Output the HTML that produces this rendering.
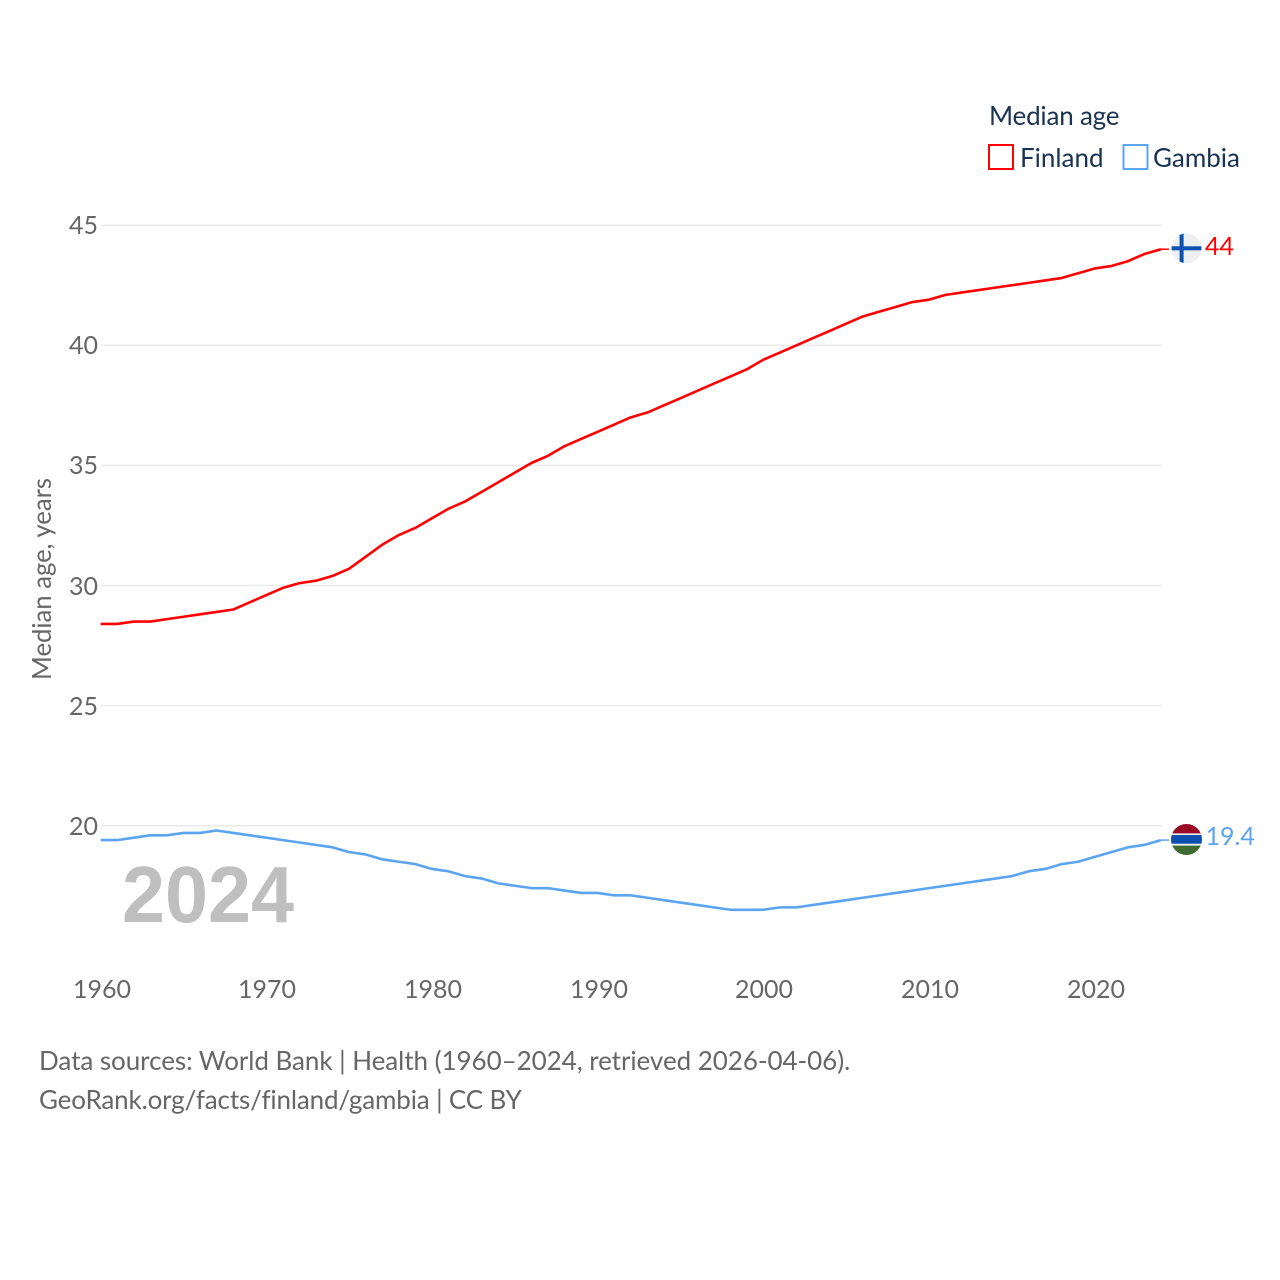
<!DOCTYPE html>
<html lang="en">
<head>
<meta charset="utf-8">
<title>Median age: Finland and Gambia</title>
<style>
  html, body { margin: 0; padding: 0; background: #fff; }
  #page { position: relative; width: 1280px; height: 1280px; overflow: hidden; }
  svg { display: block; position: absolute; left: 0; top: 0; }
  text, .t { font-family: "Lato", "Carlito", "Liberation Sans", sans-serif; font-variant-ligatures: none; }
  .t { position: absolute; white-space: nowrap; line-height: 30px; height: 30px; }
  .tick { font-size: 25px; color: #666; }
  .legend { font-size: 26px; color: #1a3352; }
  .foot { font-size: 26px; color: #666; }
</style>
</head>
<body>
<div id="page">
<svg id="chart" xmlns="http://www.w3.org/2000/svg" width="1280" height="1280" viewBox="0 0 1280 1280">
  <rect x="0" y="0" width="1280" height="1280" fill="#fff"/>
  <g id="grid"></g>

  <text transform="translate(51,680) rotate(-90)" font-size="26" fill="#666" textLength="202" lengthAdjust="spacingAndGlyphs">Median age, years</text>

  <text x="122" y="922" font-size="80" font-weight="700" fill="#bfbfbf" textLength="172" lengthAdjust="spacingAndGlyphs" style="font-family:'Liberation Sans',sans-serif">2024</text>

  <g id="series"></g>

  <rect x="989" y="145" width="24" height="24" fill="none" stroke="#ff0000" stroke-width="2"/>
  <rect x="1123.5" y="145" width="24" height="24" fill="none" stroke="#5ba4ef" stroke-width="2"/>

  <defs>
    <clipPath id="clip-fi"><circle cx="1186.5" cy="248.3" r="15"/></clipPath>
    <clipPath id="clip-gm"><circle cx="1186.5" cy="839.5" r="15.5"/></clipPath>
  </defs>

  <g clip-path="url(#clip-fi)">
    <rect x="1170" y="232" width="33" height="32" fill="#eeeff0"/>
    <rect x="1170" y="246.3" width="33" height="4" fill="#0a52b0"/>
    <rect x="1179.6" y="232" width="4" height="32" fill="#0a52b0"/>
  </g>

  <g clip-path="url(#clip-gm)">
    <rect x="1170" y="823" width="33" height="11" fill="#9a0a26"/>
    <rect x="1170" y="833.4" width="33" height="13" fill="#f1f1f1"/>
    <rect x="1170" y="835" width="33" height="8.7" fill="#0c4fae"/>
    <rect x="1170" y="845.6" width="33" height="11" fill="#3f6b30"/>
  </g>
</svg>

<div class="t legend" style="left:989px;top:100px;letter-spacing:-0.2px">Median age</div>
<div class="t legend" style="left:1020px;top:142px">Finland</div>
<div class="t legend" style="left:1153px;top:142px">Gambia</div>

<div class="t tick" style="left:1205px;top:231px;color:#ff0000">44</div>
<div class="t tick" style="left:1205.5px;top:821px;color:#5ba4ef">19.4</div>

<div class="t foot" style="left:39px;top:1045px;letter-spacing:-0.05px">Data sources: World Bank | Health (1960–2024, retrieved 2026-04-06).</div>
<div class="t foot" style="left:39px;top:1084px;letter-spacing:-0.15px">GeoRank.org/facts/finland/gambia | CC BY</div>
</div>

<script>
const firstYear = 1960;
const xTickLabels = [1960, 1970, 1980, 1990, 2000, 2010, 2020];
const yTickLabels = [20, 25, 30, 35, 40, 45];
const finlandValues = [
  28.4, 28.4, 28.5, 28.5, 28.6, 28.7, 28.8, 28.9, 29.0, 29.3,
  29.6, 29.9, 30.1, 30.2, 30.4, 30.7, 31.2, 31.7, 32.1, 32.4,
  32.8, 33.2, 33.5, 33.9, 34.3, 34.7, 35.1, 35.4, 35.8, 36.1,
  36.4, 36.7, 37.0, 37.2, 37.5, 37.8, 38.1, 38.4, 38.7, 39.0,
  39.4, 39.7, 40.0, 40.3, 40.6, 40.9, 41.2, 41.4, 41.6, 41.8,
  41.9, 42.1, 42.2, 42.3, 42.4, 42.5, 42.6, 42.7, 42.8, 43.0,
  43.2, 43.3, 43.5, 43.8, 44.0
];
const gambiaValues = [
  19.4, 19.4, 19.5, 19.6, 19.6, 19.7, 19.7, 19.8, 19.7, 19.6,
  19.5, 19.4, 19.3, 19.2, 19.1, 18.9, 18.8, 18.6, 18.5, 18.4,
  18.2, 18.1, 17.9, 17.8, 17.6, 17.5, 17.4, 17.4, 17.3, 17.2,
  17.2, 17.1, 17.1, 17.0, 16.9, 16.8, 16.7, 16.6, 16.5, 16.5,
  16.5, 16.6, 16.6, 16.7, 16.8, 16.9, 17.0, 17.1, 17.2, 17.3,
  17.4, 17.5, 17.6, 17.7, 17.8, 17.9, 18.1, 18.2, 18.4, 18.5,
  18.7, 18.9, 19.1, 19.2, 19.4
];

const SVG_NS = 'http://www.w3.org/2000/svg';
function xScale(year) { return 100.7 + (year - 1960) * 16.567; }
function yScale(value) { return 825.7 - (value - 20) * 24.02; }
function make(tag, attrs, parent) {
  const el = document.createElementNS(SVG_NS, tag);
  for (const k in attrs) el.setAttribute(k, attrs[k]);
  parent.appendChild(el);
  return el;
}

const page = document.getElementById('page');
const grid = document.getElementById('grid');
yTickLabels.forEach(function (v) {
  const line = make('line', { x1: 101, x2: 1162, y1: yScale(v), y2: yScale(v), stroke: '#ebebeb', 'stroke-width': 1.5 }, grid);
  
  
  const t = document.createElement('div');
  t.className = 't tick';
  t.style.right = (1280 - 98) + 'px';
  t.style.top = Math.round(yScale(v) - 15) + 'px';
  
  
  t.textContent = v;
  page.appendChild(t);
});

xTickLabels.forEach(function (y) {
  const t = document.createElement('div');
  t.className = 't tick';
  t.style.left = Math.round(xScale(y) - 50 + 1) + 'px';
  t.style.width = '100px';
  t.style.textAlign = 'center';
  t.style.top = '974px';
  
  
  t.textContent = y;
  page.appendChild(t);
});

const series = document.getElementById('series');
function drawSeries(values, color, name) {
  const pts = values.map(function (v, i) { return xScale(firstYear + i).toFixed(2) + ',' + yScale(v).toFixed(2); });
  const line = make('polyline', { points: pts.join(' '), fill: 'none', stroke: color, 'stroke-width': 2.6, 'stroke-linejoin': 'round' }, series);
  
  
  const last = values[values.length - 1];
  const lastX = xScale(firstYear + values.length - 1);
  const stub = make('line', { x1: lastX, x2: lastX + 8, y1: yScale(last), y2: yScale(last), stroke: color, 'stroke-width': 1.5 }, series);
  
  
}
drawSeries(finlandValues, '#ff0000', 'finland-line');
drawSeries(gambiaValues, '#5ba4ef', 'gambia-line');
</script>
</body>
</html>
